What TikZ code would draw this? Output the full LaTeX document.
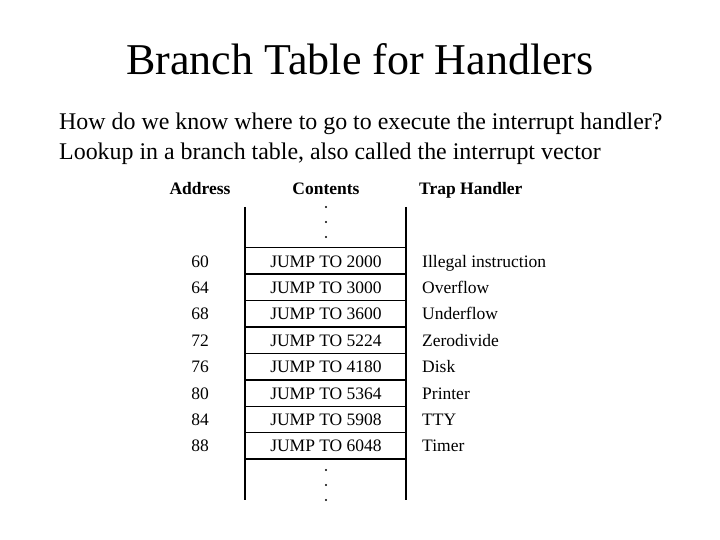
\documentclass[tikz,border=0pt]{standalone}
\usepackage{fontspec}
\setmainfont{Liberation Serif}
\begin{document}
\begin{tikzpicture}[x=1pt,y=-1pt,
  cell/.style={font=\fontsize{17.5}{18}\selectfont,inner sep=0pt,anchor=base},
  hdr/.style={font=\bfseries\fontsize{17.5}{18}\selectfont,inner sep=0pt,anchor=base},
  tline/.style={line width=1.6pt},
  dot/.style={circle,fill=black,inner sep=0pt,minimum size=2.2pt}]
\useasboundingbox (0,0) rectangle (720,540);
\node[inner sep=0pt,anchor=base,font=\fontsize{44}{48}\selectfont] (title) at (360,75) {Branch Table for Handlers};
\node[inner sep=0pt,anchor=base west,font=\fontsize{23.9}{26}\selectfont] (l1) at (59,130) {How do we know where to go to execute the interrupt handler?};
\node[inner sep=0pt,anchor=base west,font=\fontsize{23.9}{26}\selectfont] (l2) at (59,160) {Lookup in a branch table, also called the interrupt vector};
\node[hdr] (ha) at (200,195) {Address};
\node[hdr] (hc) at (326,195) {Contents};
\node[hdr,anchor=base west] (hh) at (419,195) {Trap Handler};
\coordinate (tl) at (245,207); \coordinate (bl) at (245,500);
\coordinate (tr) at (406,207); \coordinate (br) at (406,500);
\draw[tline] (tl) -- (bl); \draw[tline] (tr) -- (br);
\foreach \y [count=\k] in {247.5,274,300.5,327,353.5,380,406.5,432.5,459}{
  \coordinate (a\k) at (245,\y); \coordinate (b\k) at (406,\y);
  \draw[tline] (a\k) -- (b\k);}
\foreach \y [count=\i] in {207,222,237,470,485,500}{\node[dot] (d\i) at (326,\y) {};}
\foreach \a/\c/\h [count=\i] in {60/2000/Illegal instruction,64/3000/Overflow,68/3600/Underflow,72/5224/Zerodivide,76/4180/Disk,80/5364/Printer,84/5908/TTY,88/6048/Timer}{
  \pgfmathsetmacro\yy{267+(\i-1)*26.4}
  \node[cell] (ad\i) at (200,\yy) {\a};
  \node[cell] (ct\i) at (326,\yy) {JUMP TO \c};
  \node[cell,anchor=base west] (th\i) at (422,\yy) {\h};}
\end{tikzpicture}
\end{document}
